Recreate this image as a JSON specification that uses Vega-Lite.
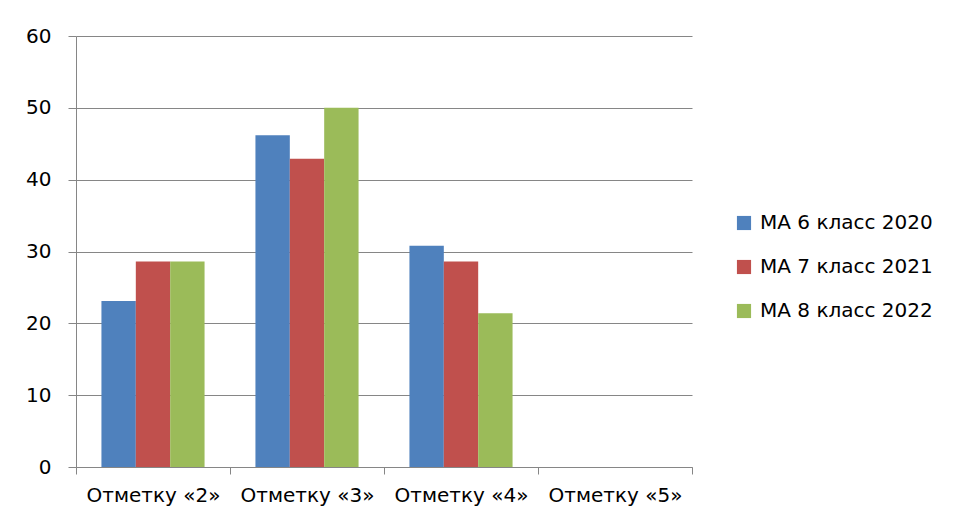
{
  "$schema": "https://vega.github.io/schema/vega-lite/v6.json",
  "width": 616,
  "height": 431,
  "autosize": {"type": "none"},
  "padding": {"left": 76, "top": 36, "right": 276, "bottom": 55},
  "background": "white",
  "data": {
    "values": [
      {"cat": "Отметку «2»", "series": "МА 6 класс 2020", "value": 23.1},
      {"cat": "Отметку «2»", "series": "МА 7 класс 2021", "value": 28.6},
      {"cat": "Отметку «2»", "series": "МА 8 класс 2022", "value": 28.6},
      {"cat": "Отметку «3»", "series": "МА 6 класс 2020", "value": 46.2},
      {"cat": "Отметку «3»", "series": "МА 7 класс 2021", "value": 42.9},
      {"cat": "Отметку «3»", "series": "МА 8 класс 2022", "value": 50},
      {"cat": "Отметку «4»", "series": "МА 6 класс 2020", "value": 30.8},
      {"cat": "Отметку «4»", "series": "МА 7 класс 2021", "value": 28.6},
      {"cat": "Отметку «4»", "series": "МА 8 класс 2022", "value": 21.4},
      {"cat": "Отметку «5»", "series": "МА 6 класс 2020", "value": 0},
      {"cat": "Отметку «5»", "series": "МА 7 класс 2021", "value": 0},
      {"cat": "Отметку «5»", "series": "МА 8 класс 2022", "value": 0}
    ]
  },
  "mark": {"type": "bar"},
  "encoding": {
    "x": {
      "field": "cat",
      "type": "nominal",
      "sort": null,
      "scale": {"paddingInner": 0, "paddingOuter": 0},
      "axis": {
        "title": null,
        "labelAngle": 0,
        "tickBand": "extent",
        "grid": false,
        "domainColor": "#868686",
        "tickColor": "#868686",
        "tickSize": 7,
        "labelPadding": 11,
        "labelFont": "DejaVu Sans",
        "labelFontSize": 20,
        "labelLimit": 200,
        "labelColor": "#000000"
      }
    },
    "xOffset": {
      "field": "series",
      "type": "nominal",
      "scale": {"paddingInner": 0, "paddingOuter": 0.74}
    },
    "y": {
      "field": "value",
      "type": "quantitative",
      "scale": {"domain": [0, 60], "nice": false},
      "axis": {
        "title": null,
        "values": [0, 10, 20, 30, 40, 50, 60],
        "grid": true,
        "gridColor": "#868686",
        "gridWidth": 1,
        "domainColor": "#868686",
        "tickColor": "#868686",
        "tickSize": 8,
        "labelPadding": 17,
        "labelFont": "DejaVu Sans",
        "labelFontSize": 20,
        "labelColor": "#000000"
      }
    },
    "color": {
      "field": "series",
      "type": "nominal",
      "scale": {
        "domain": ["МА 6 класс 2020", "МА 7 класс 2021", "МА 8 класс 2022"],
        "range": ["#4F81BD", "#C0504D", "#9BBB59"]
      },
      "legend": {
        "title": null,
        "orient": "none",
        "legendX": 658,
        "legendY": 177,
        "symbolType": "square",
        "symbolSize": 200,
        "symbolStrokeWidth": 0,
        "labelFont": "DejaVu Sans",
        "labelFontSize": 20,
        "labelLimit": 300,
        "labelColor": "#000000",
        "rowPadding": 24,
        "labelOffset": 6
      }
    }
  },
  "config": {
    "view": {"stroke": null}
  }
}
